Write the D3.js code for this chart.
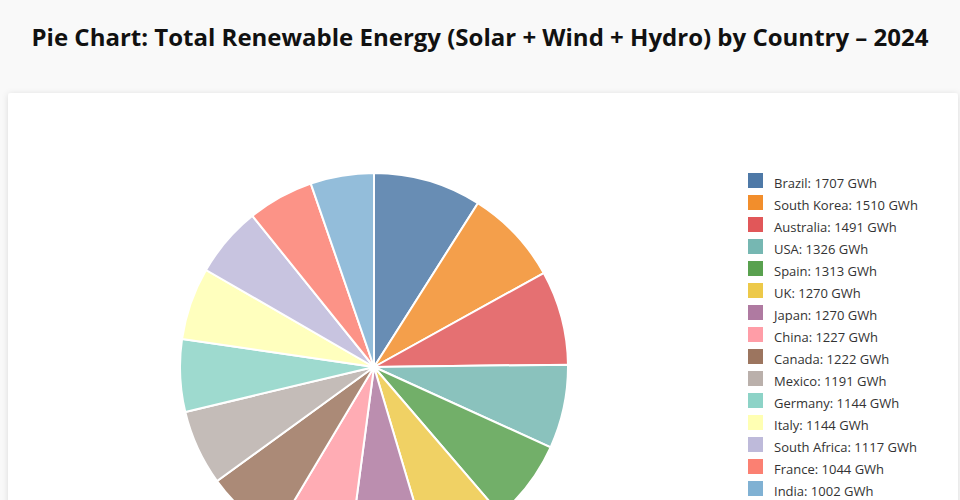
<!DOCTYPE html>
<html>
<head>
<meta charset="utf-8">
<script src="https://cdnjs.cloudflare.com/ajax/libs/d3/7.8.5/d3.min.js"></script>
<style>
  html, body { margin: 0; padding: 0; background: #f9f9f9; overflow: hidden; }
  svg { display: block; }
</style>
</head>
<body>
<svg id="chart" width="960" height="500"></svg>
<script>
const titleText = "Pie Chart: Total Renewable Energy (Solar + Wind + Hydro) by Country – 2024";
const countries = ["Brazil", "South Korea", "Australia", "USA", "Spain", "UK", "Japan", "China", "Canada", "Mexico", "Germany", "Italy", "South Africa", "France", "India"];
const values = [1707, 1510, 1491, 1326, 1313, 1270, 1270, 1227, 1222, 1191, 1144, 1144, 1117, 1044, 1002];
const unit = "GWh";

const palette = d3.schemeTableau10.concat(d3.schemeSet3);
const color = d3.scaleOrdinal().domain(countries).range(palette);

const data = countries.map((c, i) => ({ country: c, value: values[i] }));

const svg = d3.select("#chart");
const defs = svg.append("defs");
const f = defs.append("filter").attr("id", "shadow").attr("x", "-5%").attr("y", "-5%").attr("width", "110%").attr("height", "110%");
f.append("feDropShadow").attr("dx", 0).attr("dy", 1).attr("stdDeviation", 3).attr("flood-color", "#000").attr("flood-opacity", 0.12);

svg.append("text")
  .attr("x", 480).attr("y", 46)
  .attr("text-anchor", "middle")
  .attr("font-family", "'Open Sans', sans-serif")
  .attr("font-weight", 700)
  .attr("font-size", 24)
  .attr("fill", "#111")
  .text(titleText);

svg.append("rect")
  .attr("x", 8).attr("y", 93).attr("width", 950).attr("height", 440)
  .attr("rx", 3)
  .attr("fill", "#fff")
  .attr("filter", "url(#shadow)");

const radius = 194;
const g = svg.append("g").attr("transform", "translate(374,367)");
const pie = d3.pie().sort(null).value(d => d.value);
const arc = d3.arc().innerRadius(0).outerRadius(radius);

g.selectAll("path")
  .data(pie(data))
  .join("path")
  .attr("d", arc)
  .attr("fill", d => color(d.data.country))
  .attr("fill-opacity", 0.85)
  .attr("stroke", "#fff")
  .attr("stroke-width", 2);

const legend = svg.append("g").attr("transform", "translate(748,173)");
const rows = legend.selectAll("g")
  .data(data)
  .join("g")
  .attr("transform", (d, i) => `translate(0,${i * 22})`);
rows.append("rect")
  .attr("width", 15).attr("height", 15)
  .attr("fill", d => color(d.country));
rows.append("text")
  .attr("x", 26).attr("y", 14.5)
  .attr("font-family", "'Open Sans', sans-serif")
  .attr("font-size", 13)
  .attr("fill", "#333")
  .text(d => `${d.country}: ${d.value} ${unit}`);
</script>
</body>
</html>
